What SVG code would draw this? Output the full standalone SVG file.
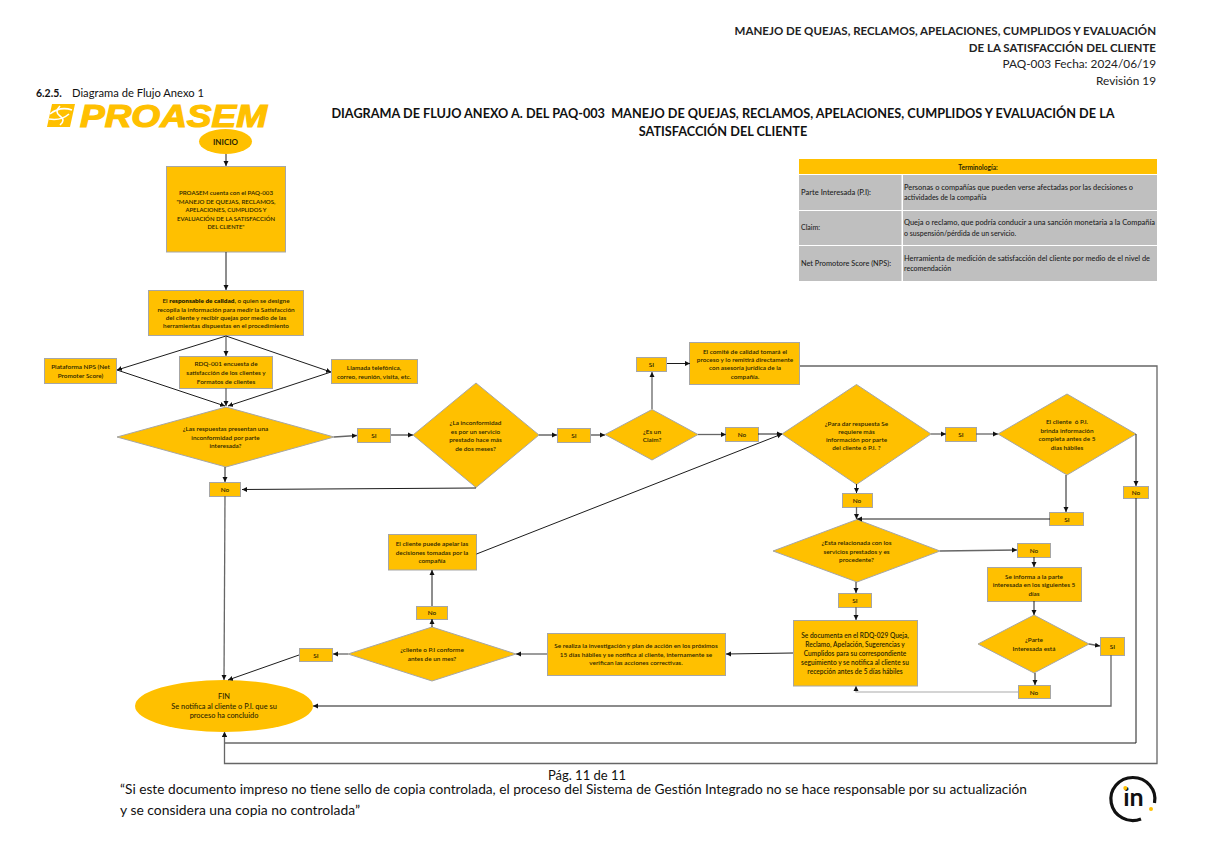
<svg xmlns="http://www.w3.org/2000/svg" width="1220" height="841" viewBox="0 0 1220 841">
<style>
text{font-family:"Lato","Liberation Sans",sans-serif;fill:#1a1a00}
.t{font-size:6.4px;font-weight:600;text-anchor:middle;fill:#2b2500;white-space:pre}
.s{font-size:6.9px;font-weight:700;text-anchor:middle;fill:#2b2500}
.b{fill:#ffc000;stroke:#a6a6a6;stroke-width:1}
.e{fill:#ffc000}
.c{fill:none;stroke:#1c1c1c;stroke-width:1;marker-end:url(#a)}
.k{fill:none;stroke:#666;stroke-width:1.3;marker-end:url(#a)}
.l{fill:none;stroke:#aaa;stroke-width:1.2;marker-end:url(#a)}
.g{fill:#bfbfbf}
.h{font-size:11.5px;font-weight:700;text-anchor:end;fill:#222}
.r{font-size:11.8px;text-anchor:end;fill:#222}
.ti{font-size:12.7px;font-weight:700;text-anchor:middle;fill:#111;white-space:pre}
.f{font-size:13px;fill:#111}
.m{font-size:7px;font-weight:500;fill:#222}
</style>
<defs><marker id="a" markerWidth="6" markerHeight="6" refX="5" refY="3" orient="auto" markerUnits="userSpaceOnUse"><path d="M0,0.5L5,3L0,5.500z" fill="#111"/></marker></defs>
<g id="header">
<text class="h" x="1156" y="35">MANEJO DE QUEJAS, RECLAMOS, APELACIONES, CUMPLIDOS Y EVALUACIÓN</text>
<text class="h" x="1156" y="52">DE LA SATISFACCIÓN DEL CLIENTE</text>
<text class="r" x="1156" y="68">PAQ-003 Fecha: 2024/06/19</text>
<text class="r" x="1156" y="85">Revisión 19</text>
<text x="36" y="97" style="font-size:10.5px;font-weight:700;fill:#111">6.2.5.</text>
<text x="72" y="97" style="font-size:11.2px;fill:#111">Diagrama de Flujo Anexo 1</text>
<text class="ti" x="723" y="118">DIAGRAMA DE FLUJO ANEXO A. DEL PAQ-003  MANEJO DE QUEJAS, RECLAMOS, APELACIONES, CUMPLIDOS Y EVALUACIÓN DE LA</text>
<text class="ti" x="723" y="136">SATISFACCIÓN DEL CLIENTE</text>
</g>
<g id="logo">
<path d="M52,104H75L70,127H47z" fill="#ffc000"/>
<path d="M50,114q10,-8 22,-4M49,119q12,2 20,-5M60,106q-6,6 0,10q6,4 0,9" fill="none" stroke="#fff" stroke-width="1.6"/>
<text x="80" y="126.500" textLength="187" lengthAdjust="spacingAndGlyphs" style="font-family:'Liberation Sans',sans-serif;font-size:31px;font-weight:700;font-style:italic;fill:#ffc000;stroke:#ffc000;stroke-width:1.2">PROASEM</text>
</g>
<g id="terminologia">
<rect x="799" y="159" width="358" height="15" fill="#ffc000"/>
<rect class="g" x="799" y="175" width="102.500" height="35"/><rect class="g" x="903" y="175" width="254" height="35"/>
<rect class="g" x="799" y="211" width="102.500" height="34"/><rect class="g" x="903" y="211" width="254" height="34"/>
<rect class="g" x="799" y="246" width="102.500" height="35"/><rect class="g" x="903" y="246" width="254" height="35"/>
<text class="s" x="978" y="169.500" style="font-size:6.6px">Terminología:</text>
<text class="m" x="801" y="195" textLength="70" lengthAdjust="spacingAndGlyphs">Parte Interesada (P.I):</text>
<text class="m" x="904" y="190" textLength="229" lengthAdjust="spacingAndGlyphs">Personas o compañías que pueden verse afectadas por las decisiones o</text>
<text class="m" x="904" y="199.500">actividades de la compañía</text>
<text class="m" x="801" y="229.500">Claim:</text>
<text class="m" x="904" y="225" textLength="251" lengthAdjust="spacingAndGlyphs">Queja o reclamo, que podría conducir a una sanción monetaria a la Compañía</text>
<text class="m" x="904" y="236">o suspensión/pérdida de un servicio.</text>
<text class="m" x="801" y="265.500" textLength="90" lengthAdjust="spacingAndGlyphs">Net Promotore Score (NPS):</text>
<text class="m" x="904" y="260.500" textLength="246" lengthAdjust="spacingAndGlyphs">Herramienta de medición de satisfacción del cliente por medio de el nivel de</text>
<text class="m" x="904" y="270.500">recomendación</text>
</g>
<g id="inicio"><ellipse class="e" cx="225.500" cy="141.500" rx="26.500" ry="12.500"/><text class="s" x="225.500" y="144.500" style="font-size:8px">INICIO</text></g>
<g id="n1"><rect class="b" x="166.500" y="166.500" width="119" height="85.500"/><text class="t" x="226" y="195" textLength="94" lengthAdjust="spacingAndGlyphs">PROASEM cuenta con el PAQ-003</text><text class="t" x="226" y="204" textLength="99" lengthAdjust="spacingAndGlyphs">"MANEJO DE QUEJAS, RECLAMOS,</text><text class="t" x="226" y="212" textLength="81" lengthAdjust="spacingAndGlyphs">APELACIONES, CUMPLIDOS Y</text><text class="t" x="226" y="221" textLength="98" lengthAdjust="spacingAndGlyphs">EVALUACIÓN DE LA SATISFACCIÓN</text><text class="t" x="226" y="229" textLength="37" lengthAdjust="spacingAndGlyphs">DEL CLIENTE"</text></g>
<g id="n2"><rect class="b" x="148.500" y="290.500" width="155" height="45"/><text class="t" x="226" y="303">El <tspan font-weight="800">responsable de calidad</tspan>, o quien se designe</text><text class="t" x="226" y="312">recopila la información para medir la Satisfacción</text><text class="t" x="226" y="320">del cliente y recibir quejas por medio de las</text><text class="t" x="226" y="328">herramientas dispuestas en el procedimiento</text></g>
<g id="n3"><rect class="b" x="44.500" y="358.500" width="72" height="25"/><text class="t" x="80.500" y="369">Plataforma NPS (Net</text><text class="t" x="80.500" y="378">Promoter Score)</text></g>
<g id="n4"><rect class="b" x="179.500" y="356.500" width="93" height="32"/><text class="t" x="226" y="366">RDQ-001 encuesta de</text><text class="t" x="226" y="375">satisfacción de los clientes y</text><text class="t" x="226" y="384">Formatos de clientes</text></g>
<g id="n5"><rect class="b" x="331.500" y="359.500" width="86" height="24"/><text class="t" x="374" y="370">Llamada telefónica,</text><text class="t" x="374" y="379">correo, reunión, visita, etc.</text></g>
<g id="d1"><polygon class="b" points="226,407 334,437 226,467 117,437"/><text class="t" x="225.500" y="431">¿Las respuestas presentan una</text><text class="t" x="225.500" y="440">inconformidad por parte</text><text class="t" x="225.500" y="448">interesada?</text></g>
<g id="si1"><rect class="b" x="357.500" y="428.500" width="33" height="14"/><text class="t" x="374" y="438">SI</text></g>
<g id="d2"><polygon class="b" points="476,383 539,435 476,487.500 413,435"/><text class="t" x="475.500" y="425">¿La inconformidad</text><text class="t" x="475.500" y="434">es por un servicio</text><text class="t" x="475.500" y="442">prestado hace más</text><text class="t" x="475.500" y="451">de dos meses?</text></g>
<g id="no1"><rect class="b" x="209.500" y="482.500" width="31" height="14"/><text class="t" x="225" y="492">No</text></g>
<g id="si2"><rect class="b" x="557.500" y="428.500" width="33" height="14"/><text class="t" x="574" y="438">SI</text></g>
<g id="d3"><polygon class="b" points="652,409.500 698,434.500 652,460 605,434.500"/><text class="t" x="652" y="433.500">¿Es un</text><text class="t" x="652" y="441.500">Claim?</text></g>
<g id="si3"><rect class="b" x="636.500" y="357.500" width="30" height="14"/><text class="t" x="651.500" y="367">SI</text></g>
<g id="n6"><rect class="b" x="689.500" y="342.500" width="110" height="42"/><text class="t" x="745" y="354">El comité de calidad tomará el</text><text class="t" x="745" y="362">proceso y lo remitirá directamente</text><text class="t" x="745" y="370">con asesoría jurídica de la</text><text class="t" x="745" y="379">compañía.</text></g>
<g id="no2"><rect class="b" x="725.500" y="427.500" width="33" height="14"/><text class="t" x="742" y="437">No</text></g>
<g id="d4"><polygon class="b" points="856.500,384.500 931,434 856.500,484.500 782,434"/><text class="t" x="856.500" y="425.500">¿Para dar respuesta Se</text><text class="t" x="856.500" y="433.500">requiere más</text><text class="t" x="856.500" y="441.500">información por parte</text><text class="t" x="856.500" y="449.500">del cliente ó P.I. ?</text></g>
<g id="si4"><rect class="b" x="945.500" y="427.500" width="31" height="14"/><text class="t" x="961" y="437">SI</text></g>
<g id="d5"><polygon class="b" points="1067,394 1136,434 1067,475 998,434"/><text class="t" x="1067" y="424">El cliente  ó P.I.</text><text class="t" x="1067" y="433">brinda información</text><text class="t" x="1067" y="441">completa antes de 5</text><text class="t" x="1067" y="450">días hábiles</text></g>
<g id="no3"><rect class="b" x="1123.500" y="486.500" width="25" height="12"/><text class="t" x="1136" y="495">No</text></g>
<g id="no4"><rect class="b" x="842.500" y="493.500" width="30" height="14"/><text class="t" x="857" y="503">No</text></g>
<g id="si5"><rect class="b" x="1049.500" y="512.500" width="34" height="13"/><text class="t" x="1067" y="522">SI</text></g>
<g id="d6"><polygon class="b" points="857,519.500 940,551 857,582 773,551"/><text class="t" x="856.500" y="545">¿Esta relacionada con los</text><text class="t" x="856.500" y="554">servicios prestados y es</text><text class="t" x="856.500" y="562">procedente?</text></g>
<g id="no5"><rect class="b" x="1017.500" y="543.500" width="33" height="14"/><text class="t" x="1034" y="553">No</text></g>
<g id="n7"><rect class="b" x="987.500" y="567.500" width="94" height="34"/><text class="t" x="1034" y="579">Se informa a la parte</text><text class="t" x="1034" y="587">interesada en los siguientes 5</text><text class="t" x="1034" y="596">días</text></g>
<g id="d7"><polygon class="b" points="1034,615 1089,644 1034,673 978,644"/><text class="t" x="1034" y="642">¿Parte</text><text class="t" x="1034" y="651">Interesada está</text></g>
<g id="si6"><rect class="b" x="1100.500" y="637.500" width="24" height="18"/><text class="t" x="1112.500" y="649">SI</text></g>
<g id="no6"><rect class="b" x="1018.500" y="685.500" width="32" height="13"/><text class="t" x="1034" y="695">No</text></g>
<g id="si7"><rect class="b" x="838.500" y="593.500" width="33" height="14"/><text class="t" x="855" y="603">SI</text></g>
<g id="n8"><rect class="b" x="793.500" y="620.500" width="124" height="65.500"/><text class="t" x="855" y="638" style="font-size:6.6px">Se documenta en el RDQ-029 Queja,</text><text class="t" x="855" y="647" style="font-size:6.6px">Reclamo, Apelación, Sugerencias y</text><text class="t" x="855" y="656" style="font-size:6.6px">Cumplidos para su correspondiente</text><text class="t" x="855" y="665" style="font-size:6.6px">seguimiento y se notifica al cliente su</text><text class="t" x="855" y="674" style="font-size:6.6px">recepción antes de 5 días hábiles</text></g>
<g id="n10"><rect class="b" x="547.500" y="633.500" width="178" height="42"/><text class="t" x="636" y="648">Se realiza la investigación y plan de acción en los próximos</text><text class="t" x="636" y="657">15 días hábiles y se notifica al cliente, internamente se</text><text class="t" x="636" y="665">verifican las acciones correctivas.</text></g>
<g id="d8"><polygon class="b" points="432,627 516,654 432,681 348,654"/><text class="t" x="432" y="652">¿cliente o P.I conforme</text><text class="t" x="432" y="661">antes de un mes?</text></g>
<g id="no7"><rect class="b" x="416.500" y="606.500" width="31" height="13"/><text class="t" x="432" y="615">No</text></g>
<g id="n9"><rect class="b" x="388.500" y="534.500" width="88" height="35.500"/><text class="t" x="432" y="546">El cliente puede apelar las</text><text class="t" x="432" y="555">decisiones tomadas por la</text><text class="t" x="432" y="563">compañía</text></g>
<g id="si8"><rect class="b" x="299.500" y="648.500" width="33" height="13"/><text class="t" x="316" y="658">SI</text></g>
<g id="fin"><ellipse class="e" cx="224" cy="706" rx="89" ry="26"/><text class="t" x="224" y="699" style="font-size:7.4px;font-weight:500">FIN</text><text class="t" x="224" y="709" style="font-size:7.4px;font-weight:500">Se notifica al cliente o P.I. que su</text><text class="t" x="224" y="718" style="font-size:7.4px;font-weight:500">proceso ha concluido</text></g>
<g id="connectors">
<path class="c" d="M226,154V166"/>
<path class="c" d="M226,252V290"/>
<path class="c" d="M226,336L117,370"/>
<path class="k" d="M226,336V356"/>
<path class="c" d="M226,336L331,372"/>
<path class="c" d="M117,370L225,406"/>
<path class="k" d="M226,388V406"/>
<path class="c" d="M331,372L228,406"/>
<path class="k" d="M334,437L357,435.500"/>
<path class="c" d="M391,435H413"/>
<path class="c" d="M225,467V482"/>
<path class="c" d="M476,488L242,489.500"/>
<path class="k" d="M225,496L224,680"/>
<path class="c" d="M539,435H557"/>
<path class="c" d="M591,435H605"/>
<path class="k" d="M652,409V372"/>
<path class="c" d="M667,363.500H690"/>
<path class="k" d="M698,434.500H726"/>
<path class="c" d="M758,434H782"/>
<path class="c" d="M476.500,554L782,434"/>
<path class="k" d="M931,434H946"/>
<path class="k" d="M976,434H998"/>
<path class="c" d="M856.500,484V493"/>
<path class="k" d="M856.500,507V519"/>
<path class="c" d="M1066,475V512"/>
<path class="c" d="M1050,519H857"/>
<path class="c" d="M1136,434V486"/>
<path class="c" d="M1136,498V743H224.500V732"/>
<path class="k" d="M800,366H1157V763.500H224.500V732"/>
<path class="k" d="M940,551L1017,550"/>
<path class="c" d="M1034,557V567"/>
<path class="c" d="M1034,601V615"/>
<path class="k" d="M1089,644L1100,646"/>
<path class="c" d="M1035,673V685"/>
<path class="l" d="M1018,692H856V686"/>
<path class="c" d="M856,582V593"/>
<path class="k" d="M856,607V620"/>
<path class="k" d="M1111,655V706H313"/>
<path class="c" d="M793,653L726,654"/>
<path class="k" d="M547,654H516"/>
<path class="k" d="M348,654H333"/>
<path class="c" d="M432,627V619"/>
<path class="c" d="M432,606V570"/>
<path class="c" d="M299,655L228,680"/>
</g>
<g id="footer">
<text class="f" x="587" y="780" text-anchor="middle">Pág. 11 de 11</text>
<text class="f" x="120" y="794" textLength="907" lengthAdjust="spacingAndGlyphs">“Si este documento impreso no tiene sello de copia controlada, el proceso del Sistema de Gestión Integrado no se hace responsable por su actualización</text>
<text class="f" x="120" y="815" textLength="240" lengthAdjust="spacingAndGlyphs">y se considera una copia no controlada”</text>
</g>
<g id="sello">
<path d="M1141,819A22,21.500 0 1 1 1154.500,803" fill="none" stroke="#111" stroke-width="3.200"/>
<circle cx="1151" cy="809" r="2" fill="#ffc000"/>
<text x="1133.500" y="806" text-anchor="middle" style="font-size:25px;font-weight:700;fill:#111">in</text>
<circle cx="1125.300" cy="788" r="2" fill="#ffc000"/>
</g>
</svg>
